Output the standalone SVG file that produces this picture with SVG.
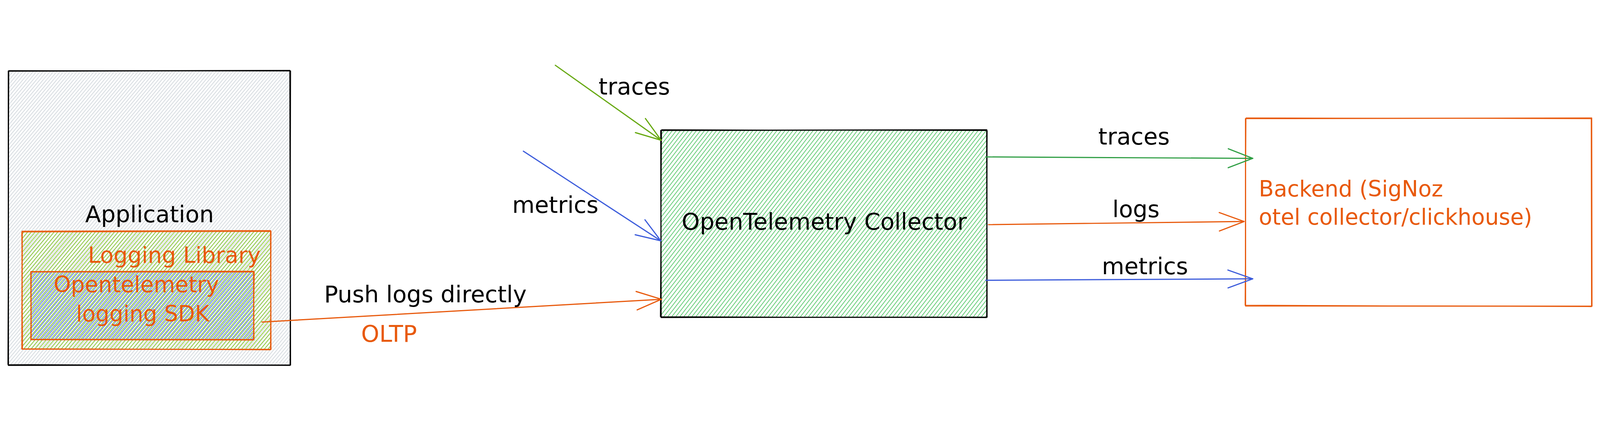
<svg xmlns="http://www.w3.org/2000/svg" width="5552" height="1106" viewBox="0 0 5552 1106" preserveAspectRatio="xMidYMid meet">
<style>
:root{width:100%;height:100%}
text{font-family:"DejaVu Sans","Liberation Sans",sans-serif;font-size:80px}
.k{stroke:#000}
.o{stroke:#e8590c}
.sk{fill:none;stroke-width:4;stroke-linejoin:round;stroke-linecap:round}
.sk2{fill:none;stroke-width:2;stroke-linecap:round}
.tk{fill:#000}
.to{fill:#e8590c}
.c{text-anchor:middle}
.ar{fill:none;stroke-width:4;stroke-linecap:round}
</style>
<defs>
<pattern id="hGray" patternUnits="userSpaceOnUse" width="40" height="9" patternTransform="rotate(-50)"><line x1="0" y1="4.5" x2="40" y2="4.5" stroke="#ced4da" stroke-width="2.4"/></pattern>
<pattern id="hLime" patternUnits="userSpaceOnUse" width="40" height="10" patternTransform="rotate(-50)"><line x1="0" y1="5" x2="40" y2="5" stroke="#82c91e" stroke-width="2.2"/></pattern>
<pattern id="hBlue" patternUnits="userSpaceOnUse" width="40" height="10" patternTransform="rotate(-50) translate(0,4)"><line x1="0" y1="5" x2="40" y2="5" stroke="#4c6ef5" stroke-width="2.2"/></pattern>
<pattern id="hGreen" patternUnits="userSpaceOnUse" width="40" height="11" patternTransform="rotate(-52)"><line x1="0" y1="5.5" x2="40" y2="5.5" stroke="#40c057" stroke-width="2.2"/></pattern>
<marker id="mOlive" viewBox="-96 -40 104 80" markerWidth="104" markerHeight="80" refX="0" refY="0" orient="auto" markerUnits="userSpaceOnUse"><path d="M-88,-30 L0,0 L-88,30" fill="none" stroke="#66a80f" stroke-width="4" stroke-linecap="round" stroke-linejoin="round"/></marker>
<marker id="mGreen" viewBox="-96 -40 104 80" markerWidth="104" markerHeight="80" refX="0" refY="0" orient="auto" markerUnits="userSpaceOnUse"><path d="M-85,-33 L0,0 L-85,33" fill="none" stroke="#2f9e44" stroke-width="4" stroke-linecap="round" stroke-linejoin="round"/></marker>
<marker id="mBlue" viewBox="-96 -40 104 80" markerWidth="104" markerHeight="80" refX="0" refY="0" orient="auto" markerUnits="userSpaceOnUse"><path d="M-86,-31 L0,0 L-86,31" fill="none" stroke="#3b5bdb" stroke-width="4" stroke-linecap="round" stroke-linejoin="round"/></marker>
<marker id="mOrange" viewBox="-96 -40 104 80" markerWidth="104" markerHeight="80" refX="0" refY="0" orient="auto" markerUnits="userSpaceOnUse"><path d="M-86,-32 L0,0 L-86,32" fill="none" stroke="#e8590c" stroke-width="4" stroke-linecap="round" stroke-linejoin="round"/></marker>
</defs>
<rect x="0" y="0" width="5552" height="1106" fill="#fff"/>

<g id="application">
<rect x="29" y="49" width="978" height="1021" fill="url(#hGray)"/>
<path class="sk k" d="M29,50 L1006,48 L1008,1070 L29,1071 Z"/>
<path class="sk2 k" d="M31,48 L1009,50 L1006,1072 L27,1068 Z"/>
<text class="tk c" x="519" y="575">Application</text>
</g>

<g id="logging-library">
<rect x="76" y="605" width="864" height="411" fill="url(#hLime)"/>
<path class="sk o" d="M77,606 L939,604 L940,1016 L76,1015 Z"/>
<path class="sk2 o" d="M75,609 L941,607 L938,1018 L79,1013 Z"/>
<text class="to c" style="font-size:77px" x="605" y="716">Logging Library</text>
</g>

<g id="otel-sdk">
<rect x="107" y="745" width="774" height="237" fill="url(#hBlue)"/>
<path class="sk o" d="M107,746 L880,745 L881,982 L108,981 Z"/>
<path class="sk2 o" d="M109,748 L883,748 L879,984 L106,983 Z"/>
<text class="to c" style="font-size:76px" x="473" y="818">Opentelemetry</text>
<text class="to c" style="font-size:76px" x="495" y="919">logging SDK</text>
</g>

<g id="collector">
<rect x="2293" y="255" width="1132" height="649" fill="url(#hGreen)"/>
<path class="sk k" d="M2293,256 L3424,254 L3425,904 L2294,905 Z"/>
<path class="sk2 k" d="M2296,253 L3426,257 L3423,906 L2291,902 Z"/>
<text class="tk c" x="2860" y="600">OpenTelemetry Collector</text>
</g>

<g id="backend">
<path class="sk o" d="M4322,215 L5523,213 L5524,866 L4322,865 Z"/>
<path class="sk2 o" d="M4324,212 L5521,216 L5522,868 L4320,862 Z"/>
<text class="to" style="font-size:76px" x="4368" y="485">Backend (SigNoz</text>
<text class="to" style="font-size:76px" x="4368" y="583">otel collector/clickhouse)</text>
</g>

<g id="connectors">
<path class="ar" stroke="#66a80f" d="M1927,30 L2294,290" marker-end="url(#mOlive)"/>
<path class="ar" stroke="#3b5bdb" d="M1816,328 L2293,639" marker-end="url(#mBlue)"/>
<path class="ar" stroke="#e8590c" d="M909,921 L2295,842" marker-end="url(#mOrange)"/>
<path class="ar" stroke="#2f9e44" d="M3421,348 L4347,353" marker-end="url(#mGreen)"/>
<path class="ar" stroke="#e8590c" d="M3430,583 L4317,572" marker-end="url(#mOrange)"/>
<path class="ar" stroke="#3b5bdb" d="M3421,776 L4347,771" marker-end="url(#mBlue)"/>
</g>

<g id="labels">
<text class="tk c" x="2201" y="132">traces</text>
<text class="tk c" x="1927" y="542">metrics</text>
<text class="tk c" x="1476" y="853">Push logs directly</text>
<text class="to c" x="1350" y="990">OLTP</text>
<text class="tk c" x="3935" y="305">traces</text>
<text class="tk c" x="3942" y="557">logs</text>
<text class="tk c" x="3973" y="755">metrics</text>
</g>
</svg>
